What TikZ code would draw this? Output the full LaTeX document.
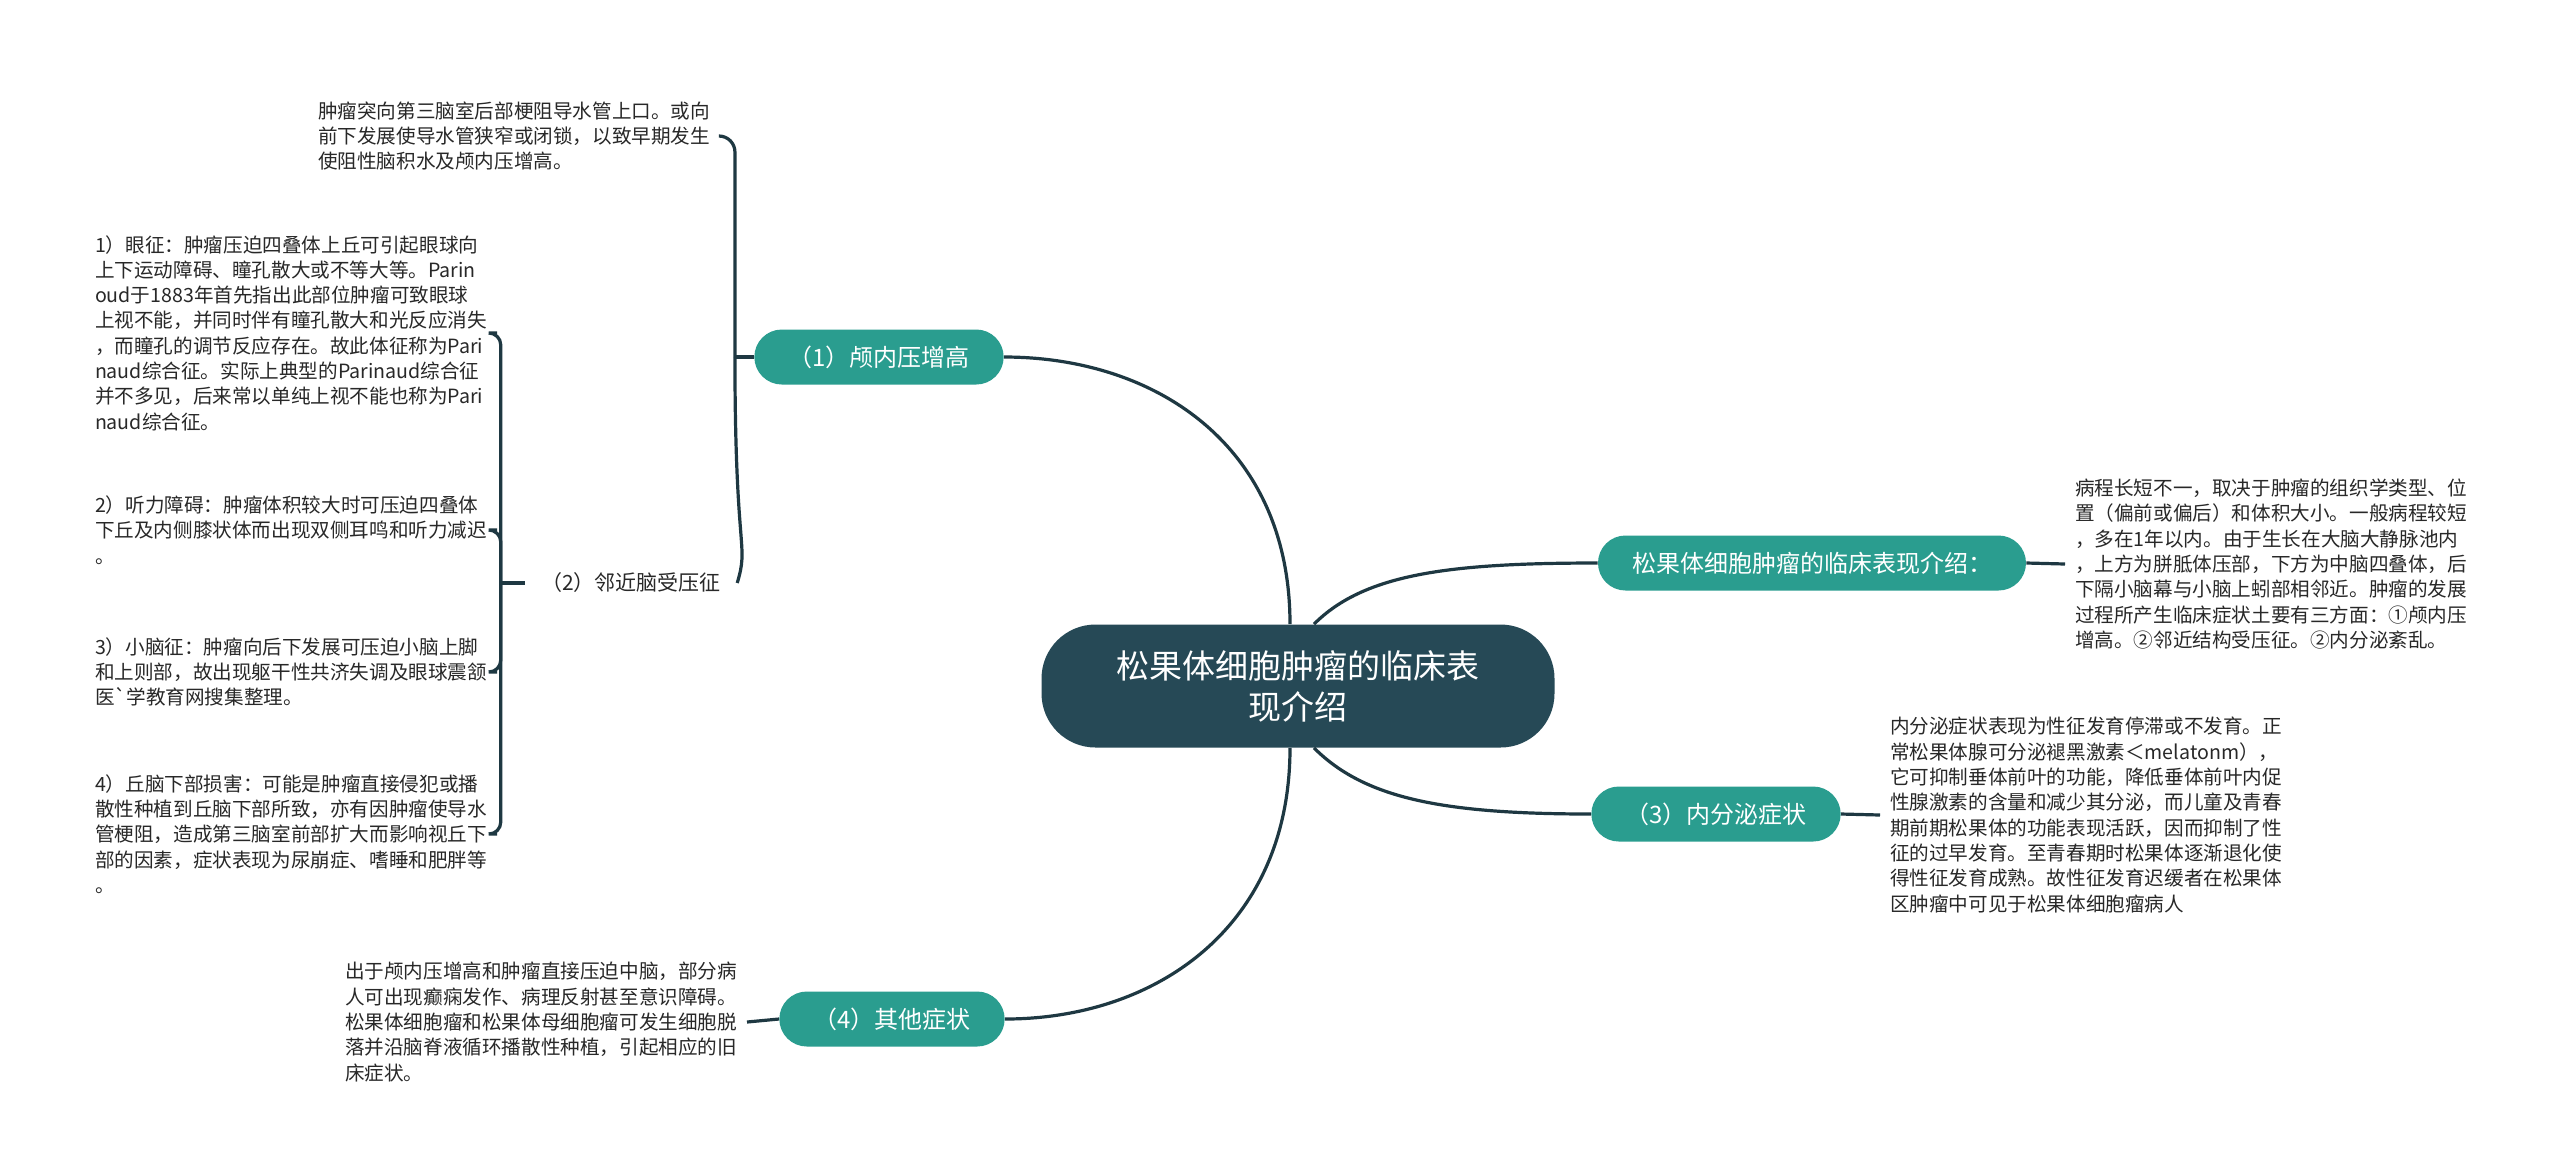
\documentclass[tikz,border=0pt]{standalone}
\usepackage{fontspec}
\setmainfont{Noto Sans CJK SC}
\newfontfamily\cjk{Noto Sans CJK SC}
\usepackage{tikz}
\usetikzlibrary{positioning,calc}
\definecolor{rootdark}{RGB}{38,73,86}
\definecolor{branchteal}{RGB}{42,157,143}
\definecolor{linkdark}{RGB}{30,56,66}
\definecolor{leafgrey}{RGB}{40,40,40}

\begin{document}
\begin{tikzpicture}[x=0.5pt, y=-0.5pt,
    root/.style={rectangle, fill=rootdark, rounded corners=27pt, minimum width=256.5pt,
                 minimum height=61.5pt, align=center, text=white,
                 font=\cjk\fontsize{16.5}{20.5}\selectfont},
    branch/.style={rectangle, fill=branchteal, rounded corners=13.75pt, minimum height=27.5pt,
                   inner xsep=17pt, text=white, font=\cjk\fontsize{12}{14}\selectfont},
    subtopic/.style={inner xsep=8pt, inner ysep=2pt, text=leafgrey,
                     font=\cjk\fontsize{10.5}{13}\selectfont},
    leaf/.style={inner sep=0pt, outer xsep=5pt, align=left, anchor=west, text=leafgrey,
                 font=\cjk\fontsize{9.8}{12.65}\selectfont},
    link/.style={draw=linkdark, line width=1.6pt}
]
\fill[white] (0,0) rectangle (2560,1175);
\useasboundingbox (0,0) rectangle (2560,1175);

% main topic and branches
\node[root]   (root)  at (1298,686) {松果体细胞肿瘤的临床表\\现介绍};
\node[branch] (one)   at (879,357)  {（1）颅内压增高};
\node[branch] (intro) at (1812,563) {松果体细胞肿瘤的临床表现介绍：};
\node[branch] (three) at (1716,814) {（3）内分泌症状};
\node[branch] (four)  at (892,1019) {（4）其他症状};
\node[subtopic] (two) at (631,583)  {（2）邻近脑受压征};

% texts
\node[leaf] (toptxt) at (308,136) {肿瘤突向第三脑室后部梗阻导水管上口。或向\\前下发展使导水管狭窄或闭锁，以致早期发生\\使阻性脑积水及颅内压增高。};
\node[leaf] (sym1) at (85,333) {1）眼征：肿瘤压迫四叠体上丘可引起眼球向\\上下运动障碍、瞳孔散大或不等大等。Parin\\oud于1883年首先指出此部位肿瘤可致眼球\\上视不能，并同时伴有瞳孔散大和光反应消失\\，而瞳孔的调节反应存在。故此体征称为Pari\\naud综合征。实际上典型的Parinaud综合征\\并不多见，后来常以单纯上视不能也称为Pari\\naud综合征。};
\node[leaf] (sym2) at (85,530) {2）听力障碍：肿瘤体积较大时可压迫四叠体\\下丘及内侧膝状体而出现双侧耳鸣和听力减迟\\。};
\node[leaf] (sym3) at (85,672) {3）小脑征：肿瘤向后下发展可压迫小脑上脚\\和上则部，故出现躯干性共济失调及眼球震颔\\医`学教育网搜集整理。};
\node[leaf] (sym4) at (85,834) {4）丘脑下部损害：可能是肿瘤直接侵犯或播\\散性种植到丘脑下部所致，亦有因肿瘤使导水\\管梗阻，造成第三脑室前部扩大而影响视丘下\\部的因素，症状表现为尿崩症、嗜睡和肥胖等\\。};
\node[leaf] (cltext) at (2065,564) {病程长短不一，取决于肿瘤的组织学类型、位\\置（偏前或偏后）和体积大小。一般病程较短\\，多在1年以内。由于生长在大脑大静脉池内\\，上方为胼胝体压部，下方为中脑四叠体，后\\下隔小脑幕与小脑上蚓部相邻近。肿瘤的发展\\过程所产生临床症状土要有三方面：①颅内压\\增高。②邻近结构受压征。②内分泌紊乱。};
\node[leaf] (endo) at (1880,815) {内分泌症状表现为性征发育停滞或不发育。正\\常松果体腺可分泌褪黑激素＜melatonm），\\它可抑制垂体前叶的功能，降低垂体前叶内促\\性腺激素的含量和减少其分泌，而儿童及青春\\期前期松果体的功能表现活跃，因而抑制了性\\征的过早发育。至青春期时松果体逐渐退化使\\得性征发育成熟。故性征发育迟缓者在松果体\\区肿瘤中可见于松果体细胞瘤病人};
\node[leaf] (othtxt) at (335,1022) {出于颅内压增高和肿瘤直接压迫中脑，部分病\\人可出现癫痫发作、病理反射甚至意识障碍。\\松果体细胞瘤和松果体母细胞瘤可发生细胞脱\\落并沿脑脊液循环播散性种植，引起相应的旧\\床症状。};

% root links
\draw[link] ([xshift=-4pt]root.north) .. controls +(0,-180) and +(150,0) .. (one.east);
\draw[link] ([xshift=-4pt]root.south) .. controls +(0,180) and +(150,0) .. (four.east);
\draw[link] ([xshift=8pt]root.north) .. controls +(50,-50) and +(-150,0) .. (intro.west);
\draw[link] ([xshift=8pt]root.south) .. controls +(50,50) and +(-150,0) .. (three.west);

% branch links
\draw[link] (one.west) -- ++(-9.5pt,0) coordinate (onefork);
\draw[link, rounded corners=8pt] (onefork) |- (toptxt.east);
\draw[link] (onefork) .. controls +(0,200) and +(12,-40) .. (two.east);
\draw[link] (two.west) -- ++(-12pt,0) coordinate (twofork);
\draw[link, rounded corners=6pt] (twofork) |- (sym1.east);
\draw[link, rounded corners=6pt] (twofork) |- (sym2.east);
\draw[link, rounded corners=6pt] (twofork) |- (sym3.east);
\draw[link, rounded corners=6pt] (twofork) |- (sym4.east);
\draw[link] (intro.east) -- (cltext.west);
\draw[link] (three.east) -- (endo.west);
\draw[link] (four.west) -- (othtxt.east);
\end{tikzpicture}
\end{document}
